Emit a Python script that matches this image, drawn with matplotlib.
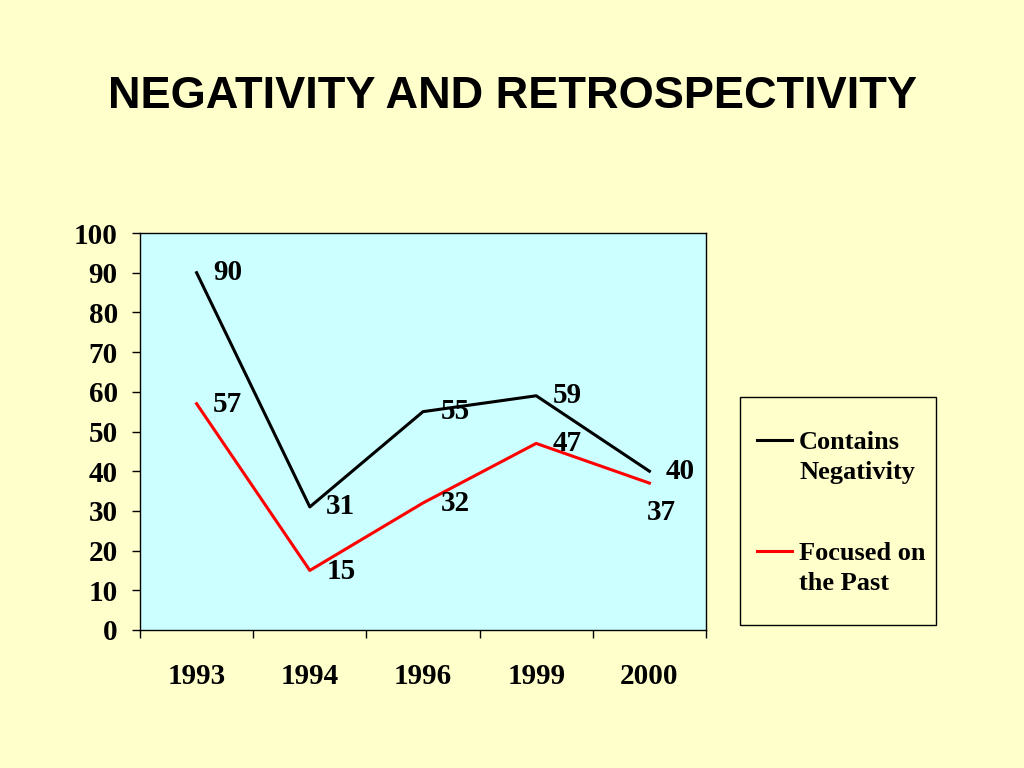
import matplotlib.pyplot as plt
from matplotlib.ticker import FixedLocator
from matplotlib.patches import Rectangle
from matplotlib.lines import Line2D

# data
years = ["1993", "1994", "1996", "1999", "2000"]
negativity = [90, 31, 55, 59, 40]
past = [57, 15, 32, 47, 37]
series_names = ["Contains\nNegativity", "Focused on\nthe Past"]
series_colors = ["black", "#FF0000"]

# label offsets (pixels) for the value labels
neg_offsets = [(31, 0), (31, 0), (32, 0), (31, 0), (31, 0)]
past_offsets = [(31, -1), (31, -1), (32, -1), (31, 0), (12, -29)]

serif = "Liberation Serif"
W, H = 1024, 768

fig = plt.figure(figsize=(10.24, 7.68), dpi=100, facecolor="#FFFFCC")
ax = fig.add_axes([140 / W, 1 - 630 / H, 566 / W, 397 / H])
ax.set_facecolor("#CCFFFF")

x = list(range(len(years)))
ax.plot(x, negativity, color=series_colors[0], lw=2.2)
ax.plot(x, past, color=series_colors[1], lw=2.2)

for vals, offs in ((negativity, neg_offsets), (past, past_offsets)):
    for xi, v, off in zip(x, vals, offs):
        ax.annotate(str(v), (xi, v), xytext=off, textcoords="offset pixels",
                    ha="center", va="center", fontsize=21, fontweight="bold",
                    family=serif)

ax.set_xlim(-0.5, len(years) - 0.5)
ax.set_ylim(0, 100)
ax.set_yticks(range(0, 101, 10))
ax.set_xticks(x)
ax.set_xticklabels(years)
ax.xaxis.set_minor_locator(FixedLocator([i - 0.5 for i in range(len(years) + 1)]))
ax.tick_params(axis="x", which="major", length=0, pad=24)
ax.tick_params(axis="x", which="minor", length=6, width=1, direction="out")
ax.tick_params(axis="y", length=6, width=1, direction="out", pad=10)
for lab in ax.get_xticklabels() + ax.get_yticklabels():
    lab.set_family(serif)
    lab.set_fontweight("bold")
    lab.set_fontsize(21)
for sp in ax.spines.values():
    sp.set_linewidth(1)
    sp.set_color("black")

fig.text(0.5, 1 - 97 / H, "NEGATIVITY AND RETROSPECTIVITY", ha="center",
         va="center", fontsize=32.5, fontweight="bold", family="Liberation Sans")

# legend box, drawn by hand so the keys sit on the first text line
fig.add_artist(Rectangle((740 / W, 1 - 625 / H), 196 / W, 228 / H,
                         transform=fig.transFigure, facecolor="#FFFFCC",
                         edgecolor="black", lw=1))
for i, (name, col) in enumerate(zip(series_names, series_colors)):
    ytop = 440 + i * 111
    fig.add_artist(Line2D([757 / W, 792 / W], [1 - ytop / H, 1 - ytop / H],
                          transform=fig.transFigure, color=col, lw=2.2))
    fig.text(799 / W, 1 - (ytop - 9) / H, name, ha="left", va="top",
             fontsize=19, fontweight="bold", family=serif, linespacing=1.4)

fig.savefig("out.png", dpi=100, facecolor=fig.get_facecolor())
